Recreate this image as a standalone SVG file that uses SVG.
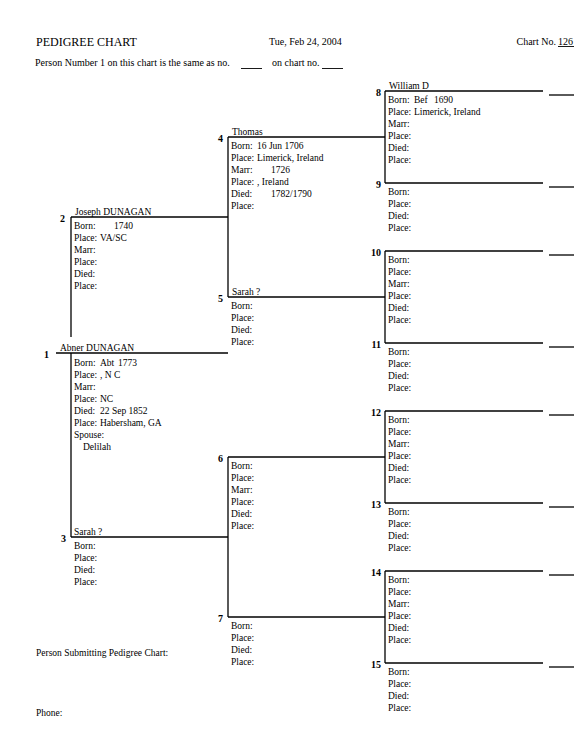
<svg xmlns="http://www.w3.org/2000/svg" width="576" height="754" viewBox="0 0 576 754">
<style>
text{font-family:"Liberation Serif","Times New Roman",serif;fill:#000}
.t{font-size:9.5px}
.h{font-size:10px}
.ti{font-size:12px}
.n{font-size:10px;font-weight:bold}
.e{text-anchor:end}
line{stroke:#000;stroke-width:1.3}
</style>
<rect width="576" height="754" fill="#fff"/>
<g id="header">
<text class="ti" x="36" y="46">PEDIGREE CHART</text>
<text class="h" x="269" y="44.5">Tue, Feb 24, 2004</text>
<text class="h" x="516.5" y="44.5">Chart No.</text>
<text class="h" x="558" y="44.5">126</text>
<line x1="558" y1="46.5" x2="574" y2="46.5" style="stroke-width:0.9"/>
<text class="h" x="35" y="66">Person Number 1 on this chart is the same as no.</text>
<line x1="241" y1="68.5" x2="262" y2="68.5" style="stroke-width:0.9"/>
<text class="h" x="272" y="66">on chart no.</text>
<line x1="322" y1="68.5" x2="343" y2="68.5" style="stroke-width:0.9"/>
</g>
<g id="connectors">
<line x1="71" y1="217" x2="71" y2="337"/>
<line x1="71" y1="353" x2="71" y2="537"/>
<line x1="228" y1="137" x2="228" y2="297"/>
<line x1="228" y1="457" x2="228" y2="617"/>
<line x1="385" y1="91" x2="385" y2="183"/>
<line x1="385" y1="251" x2="385" y2="343"/>
<line x1="385" y1="411" x2="385" y2="503"/>
<line x1="385" y1="571" x2="385" y2="663"/>
<line x1="549" y1="95" x2="574" y2="95"/>
<line x1="549" y1="187" x2="574" y2="187"/>
<line x1="549" y1="255" x2="574" y2="255"/>
<line x1="549" y1="347" x2="574" y2="347"/>
<line x1="549" y1="415" x2="574" y2="415"/>
<line x1="549" y1="507" x2="574" y2="507"/>
<line x1="549" y1="575" x2="574" y2="575"/>
<line x1="549" y1="667" x2="574" y2="667"/>
</g>
<g id="p1">
<line x1="56" y1="353" x2="228" y2="353"/>
<text class="n e" x="49" y="357.5">1</text>
<text class="t" x="60" y="351">Abner DUNAGAN</text>
<text class="t" x="74" y="365.5">Born:</text><text class="t" x="100" y="365.5">Abt</text><text class="t" x="118" y="365.5">1773</text>
<text class="t" x="74" y="377.5">Place:</text><text class="t" x="100" y="377.5">, N C</text>
<text class="t" x="74" y="389.5">Marr:</text>
<text class="t" x="74" y="401.5">Place:</text><text class="t" x="100" y="401.5">NC</text>
<text class="t" x="74" y="413.5">Died:</text><text class="t" x="100" y="413.5">22 Sep 1852</text>
<text class="t" x="74" y="425.5">Place:</text><text class="t" x="100" y="425.5">Habersham, GA</text>
<text class="t" x="74" y="437.5">Spouse:</text>
<text class="t" x="83" y="449.5">Delilah</text>
</g>
<g id="p2">
<line x1="71" y1="217" x2="228" y2="217"/>
<text class="n e" x="65" y="221.5">2</text>
<text class="t" x="75" y="215">Joseph DUNAGAN</text>
<text class="t" x="74" y="229">Born:</text><text class="t" x="114" y="229">1740</text>
<text class="t" x="74" y="241">Place:</text><text class="t" x="100" y="241">VA/SC</text>
<text class="t" x="74" y="253">Marr:</text>
<text class="t" x="74" y="265">Place:</text>
<text class="t" x="74" y="277">Died:</text>
<text class="t" x="74" y="289">Place:</text>
</g>
<g id="p3">
<line x1="71" y1="537" x2="228" y2="537"/>
<text class="n e" x="66" y="541.5">3</text>
<text class="t" x="74" y="535">Sarah ?</text>
<text class="t" x="74" y="549">Born:</text>
<text class="t" x="74" y="561">Place:</text>
<text class="t" x="74" y="573">Died:</text>
<text class="t" x="74" y="585">Place:</text>
</g>
<g id="p4">
<line x1="228" y1="137" x2="385" y2="137"/>
<text class="n e" x="223" y="141.5">4</text>
<text class="t" x="232" y="135">Thomas</text>
<text class="t" x="231" y="149">Born:</text><text class="t" x="257" y="149">16 Jun 1706</text>
<text class="t" x="231" y="161">Place:</text><text class="t" x="257" y="161">Limerick, Ireland</text>
<text class="t" x="231" y="173">Marr:</text><text class="t" x="271" y="173">1726</text>
<text class="t" x="231" y="185">Place:</text><text class="t" x="257" y="185">, Ireland</text>
<text class="t" x="231" y="197">Died:</text><text class="t" x="271" y="197">1782/1790</text>
<text class="t" x="231" y="209">Place:</text>
</g>
<g id="p5">
<line x1="228" y1="297" x2="385" y2="297"/>
<text class="n e" x="223" y="301.5">5</text>
<text class="t" x="232" y="295">Sarah ?</text>
<text class="t" x="231" y="309">Born:</text>
<text class="t" x="231" y="321">Place:</text>
<text class="t" x="231" y="333">Died:</text>
<text class="t" x="231" y="345">Place:</text>
</g>
<g id="p6">
<line x1="228" y1="457" x2="385" y2="457"/>
<text class="n e" x="223" y="461.5">6</text>
<text class="t" x="231" y="469">Born:</text>
<text class="t" x="231" y="481">Place:</text>
<text class="t" x="231" y="493">Marr:</text>
<text class="t" x="231" y="505">Place:</text>
<text class="t" x="231" y="517">Died:</text>
<text class="t" x="231" y="529">Place:</text>
</g>
<g id="p7">
<line x1="228" y1="617" x2="385" y2="617"/>
<text class="n e" x="223" y="621.5">7</text>
<text class="t" x="231" y="629">Born:</text>
<text class="t" x="231" y="641">Place:</text>
<text class="t" x="231" y="653">Died:</text>
<text class="t" x="231" y="665">Place:</text>
</g>
<g id="p8">
<line x1="385" y1="91" x2="543" y2="91"/>
<text class="n e" x="381" y="95.5">8</text>
<text class="t" x="389" y="89">William D</text>
<text class="t" x="388" y="103">Born:</text><text class="t" x="414" y="103">Bef</text><text class="t" x="434" y="103">1690</text>
<text class="t" x="388" y="115">Place:</text><text class="t" x="414" y="115">Limerick, Ireland</text>
<text class="t" x="388" y="127">Marr:</text>
<text class="t" x="388" y="139">Place:</text>
<text class="t" x="388" y="151">Died:</text>
<text class="t" x="388" y="163">Place:</text>
</g>
<g id="p9">
<line x1="385" y1="183" x2="543" y2="183"/>
<text class="n e" x="381" y="187.5">9</text>
<text class="t" x="388" y="195">Born:</text>
<text class="t" x="388" y="207">Place:</text>
<text class="t" x="388" y="219">Died:</text>
<text class="t" x="388" y="231">Place:</text>
</g>
<g id="p10">
<line x1="385" y1="251" x2="543" y2="251"/>
<text class="n e" x="381" y="255.5">10</text>
<text class="t" x="388" y="263">Born:</text>
<text class="t" x="388" y="275">Place:</text>
<text class="t" x="388" y="287">Marr:</text>
<text class="t" x="388" y="299">Place:</text>
<text class="t" x="388" y="311">Died:</text>
<text class="t" x="388" y="323">Place:</text>
</g>
<g id="p11">
<line x1="385" y1="343" x2="543" y2="343"/>
<text class="n e" x="381" y="347.5">11</text>
<text class="t" x="388" y="355">Born:</text>
<text class="t" x="388" y="367">Place:</text>
<text class="t" x="388" y="379">Died:</text>
<text class="t" x="388" y="391">Place:</text>
</g>
<g id="p12">
<line x1="385" y1="411" x2="543" y2="411"/>
<text class="n e" x="381" y="415.5">12</text>
<text class="t" x="388" y="423">Born:</text>
<text class="t" x="388" y="435">Place:</text>
<text class="t" x="388" y="447">Marr:</text>
<text class="t" x="388" y="459">Place:</text>
<text class="t" x="388" y="471">Died:</text>
<text class="t" x="388" y="483">Place:</text>
</g>
<g id="p13">
<line x1="385" y1="503" x2="543" y2="503"/>
<text class="n e" x="381" y="507.5">13</text>
<text class="t" x="388" y="515">Born:</text>
<text class="t" x="388" y="527">Place:</text>
<text class="t" x="388" y="539">Died:</text>
<text class="t" x="388" y="551">Place:</text>
</g>
<g id="p14">
<line x1="385" y1="571" x2="543" y2="571"/>
<text class="n e" x="381" y="575.5">14</text>
<text class="t" x="388" y="583">Born:</text>
<text class="t" x="388" y="595">Place:</text>
<text class="t" x="388" y="607">Marr:</text>
<text class="t" x="388" y="619">Place:</text>
<text class="t" x="388" y="631">Died:</text>
<text class="t" x="388" y="643">Place:</text>
</g>
<g id="p15">
<line x1="385" y1="663" x2="543" y2="663"/>
<text class="n e" x="381" y="667.5">15</text>
<text class="t" x="388" y="675">Born:</text>
<text class="t" x="388" y="687">Place:</text>
<text class="t" x="388" y="699">Died:</text>
<text class="t" x="388" y="711">Place:</text>
</g>
<g id="footer">
<text class="t" x="36" y="656">Person Submitting Pedigree Chart:</text>
<text class="t" x="36" y="716">Phone:</text>
</g>
</svg>
